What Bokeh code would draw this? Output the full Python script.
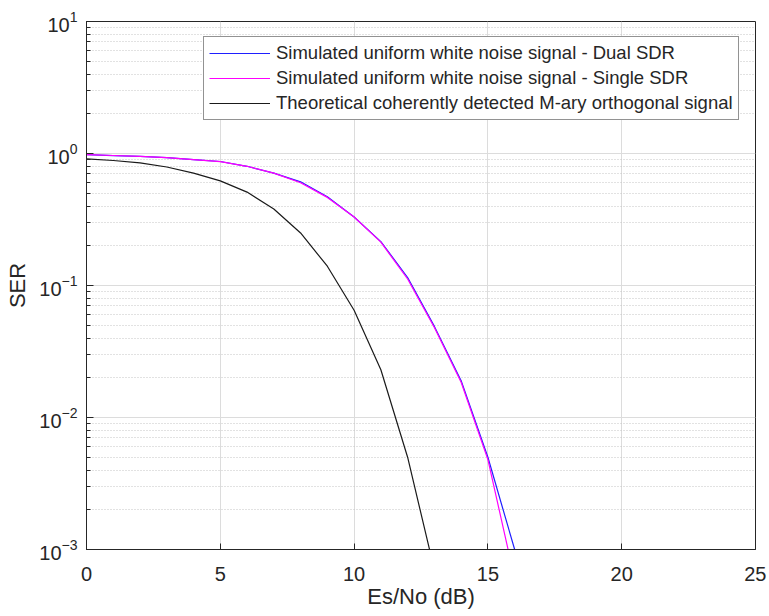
from bokeh.plotting import figure
from bokeh.models import Legend, LegendItem, FixedTicker, Range1d
from bokeh.embed import file_html
from bokeh.resources import INLINE

# ---- data ----
snr_sim = [0, 1, 2, 3, 4, 5, 6, 7, 8, 9, 10, 11, 12, 13, 14, 15, 16]
ser_dual = [0.98, 0.965, 0.95, 0.93, 0.90, 0.87, 0.80, 0.71, 0.61, 0.47, 0.33,
            0.215, 0.115, 0.049, 0.019, 0.0050, 0.0010]
ser_single = [0.98, 0.966, 0.951, 0.93, 0.90, 0.868, 0.80, 0.71, 0.60, 0.465, 0.33,
              0.213, 0.112, 0.048, 0.0185, 0.0048, 0.0006]
snr_theory = [0, 1, 2, 3, 4, 5, 6, 7, 8, 9, 10, 11, 12, 13]
ser_theory = [0.91, 0.885, 0.85, 0.79, 0.71, 0.62, 0.51, 0.38, 0.25, 0.14, 0.065,
              0.023, 0.005, 0.0007]
x_ticks = [0, 5, 10, 15, 20, 25]
legend_labels = ["Simulated uniform white noise signal - Dual SDR",
                 "Simulated uniform white noise signal - Single SDR",
                 "Theoretical coherently detected M-ary orthogonal signal"]

FONT = "Liberation Sans"
TXT = "#262626"

p = figure(width=766, height=616, y_axis_type="log",
           x_range=Range1d(0, 25), y_range=Range1d(1e-3, 10),
           output_backend="svg", toolbar_location=None,
           min_border_left=86, min_border_top=21, min_border_right=11,
           min_border_bottom=67)
p.outline_line_color = TXT
p.outline_line_width = 1
p.background_fill_color = "white"

for ax in p.xaxis:
    ax.ticker = FixedTicker(ticks=x_ticks)
    ax.axis_label = "Es/No (dB)"
    ax.major_tick_in = 6
    ax.major_tick_out = 0
    ax.minor_tick_in = 0
    ax.minor_tick_out = 0
    ax.major_label_standoff = 17
    ax.axis_label_standoff = 0
for ax in p.yaxis:
    ax.axis_label = "SER"
    ax.major_tick_in = 7
    ax.major_tick_out = 0
    ax.minor_tick_in = 4
    ax.minor_tick_out = 0
    ax.major_label_standoff = 9
    ax.axis_label_standoff = 6
for ax in list(p.xaxis) + list(p.yaxis):
    ax.axis_line_color = TXT
    ax.major_tick_line_color = TXT
    ax.minor_tick_line_color = TXT
    ax.major_label_text_font = FONT
    ax.major_label_text_font_size = "20px"
    ax.major_label_text_color = TXT
    ax.axis_label_text_font = FONT
    ax.axis_label_text_font_size = "22px"
    ax.axis_label_text_font_style = "normal"
    ax.axis_label_text_color = TXT

p.xgrid.grid_line_color = "#dcdcdc"
p.ygrid.grid_line_color = "#dcdcdc"
p.ygrid.minor_grid_line_color = "#c4c4c4"
p.ygrid.minor_grid_line_dash = "1 2"

r1 = p.line(snr_sim, ser_dual, line_color="#1f1fff", line_width=1.2)
r2 = p.line(snr_sim, ser_single, line_color="#ff00ff", line_width=1.2)
r3 = p.line(snr_theory, ser_theory, line_color="#1a1a1a", line_width=1.2)

legend = Legend(items=[LegendItem(label=legend_labels[0], renderers=[r1]),
                       LegendItem(label=legend_labels[1], renderers=[r2]),
                       LegendItem(label=legend_labels[2], renderers=[r3])],
                location=(117, 429))
legend.label_text_font = FONT
legend.label_text_font_size = "18.5px"
legend.label_text_color = TXT
legend.glyph_width = 61
legend.glyph_height = 20
legend.label_standoff = 6
legend.label_height = 20
legend.spacing = 3
legend.padding = 5
legend.margin = 0
legend.border_line_color = TXT
legend.border_line_width = 1
legend.background_fill_alpha = 1
p.add_layout(legend, "center")

open("out.html", "w").write(file_html(p, INLINE))
